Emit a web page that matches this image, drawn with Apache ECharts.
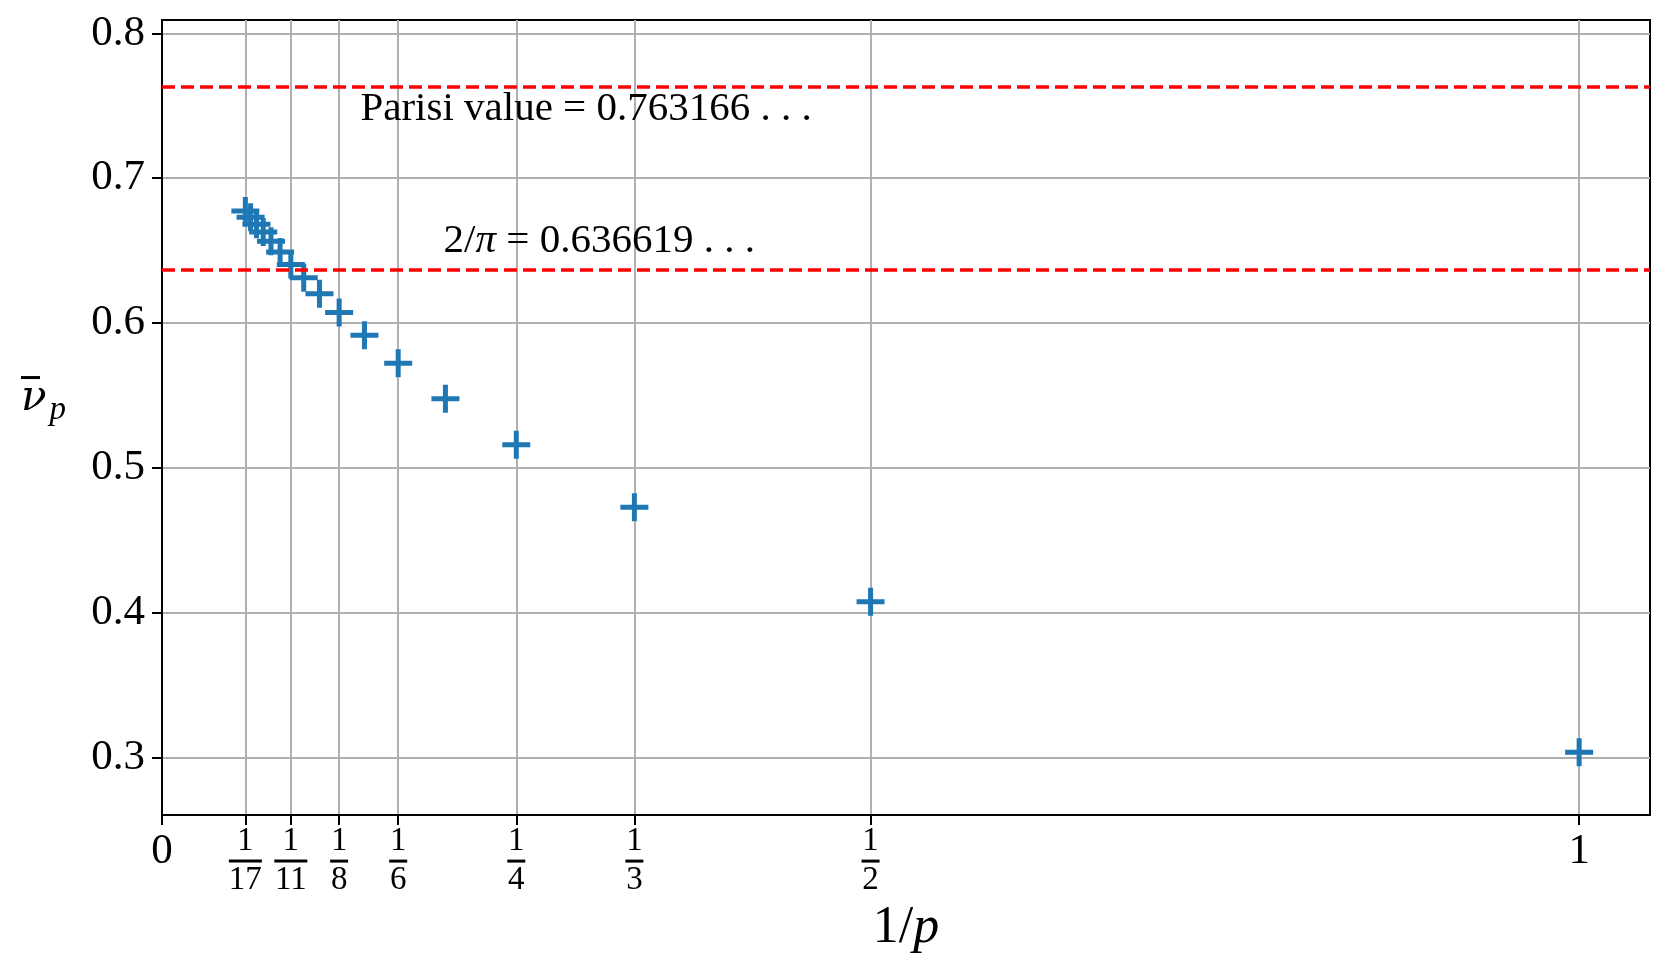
<!DOCTYPE html>
<html><head><meta charset="utf-8">
<script src="https://cdn.jsdelivr.net/npm/echarts@6/dist/echarts.min.js"></script>
<style>html,body{margin:0;padding:0;background:#fff}#c{width:1655px;height:959px}</style>
</head><body><div id="c"></div>
<script>
// ---- data ----
const pValues = [1, 2, 3, 4, 5, 6, 7, 8, 9, 10, 11, 12, 13, 14, 15, 16, 17];
const nuValues = [0.3037, 0.4076, 0.4729, 0.5160, 0.5477, 0.5722, 0.5915, 0.6072, 0.6202, 0.6313, 0.6404, 0.6490, 0.6565, 0.6628, 0.6682, 0.6731, 0.6773];
const xTickLabels = ['0', '1/17', '1/11', '1/8', '1/6', '1/4', '1/3', '1/2', '1'];
const yTickValues = [0.3, 0.4, 0.5, 0.6, 0.7, 0.8];
const refValues = [0.763166, 0.636619];
const refTexts = ['Parisi value = 0.763166', '2/π = 0.636619'];
const refTextAnchors = [[0.14, 0.7479], [0.1987, 0.6566]];

// ---- derived ----
const xTickValues = xTickLabels.map(s => { const a = s.split('/'); return a.length === 2 ? (+a[0]) / (+a[1]) : +a[0]; });
const points = pValues.map((p, i) => [1 / p, nuValues[i]]);
const FONT = 'Liberation Serif';

function xLabel(v) {
  let idx = -1;
  xTickValues.forEach((t, i) => { if (Math.abs(t - v) < 1e-9) idx = i; });
  if (idx < 0) return '';
  const s = xTickLabels[idx];
  const a = s.split('/');
  if (a.length === 1) return '{w|' + s + '}';
  const bar = a[1].length > 1 ? 'bar2' : 'bar1';
  return '{n|' + a[0] + '}\n{' + bar + '| }\n{n|' + a[1] + '}';
}

function refLabel(i) {
  const t = refTexts[i];
  if (t.indexOf('π') >= 0) {
    const parts = t.split('π');
    return '{t|' + parts[0] + '}{i|π}{t|' + parts[1] + ' . . .}';
  }
  return '{t|' + t + ' . . .}';
}

const chart = echarts.init(document.getElementById('c'), null, {renderer: 'canvas'});
chart.setOption({
  backgroundColor: '#fff',
  animation: false,
  grid: {left: 162, right: 5, top: 20, bottom: 142, show: true, borderColor: '#000', borderWidth: 2, backgroundColor: 'transparent'},
  xAxis: {
    type: 'value', min: 0, max: 1.05,
    name: '{n|1/}{i|p}', nameLocation: 'middle', nameGap: 82,
    nameTextStyle: {rich: {
      n: {fontFamily: FONT, fontSize: 52, color: '#000'},
      i: {fontFamily: FONT, fontSize: 52, fontStyle: 'italic', color: '#000'}
    }},
    axisLine: {show: true, lineStyle: {color: '#000', width: 2}},
    axisTick: {show: true, customValues: xTickValues, length: 10, lineStyle: {color: '#000', width: 2}},
    axisLabel: {
      customValues: xTickValues, margin: 11, formatter: xLabel,
      rich: {
        w: {fontFamily: FONT, fontSize: 43, lineHeight: 52, color: '#000'},
        n: {fontFamily: FONT, fontSize: 33, lineHeight: 31, color: '#000', align: 'center'},
        bar1: {width: 18, height: 3, backgroundColor: '#000', lineHeight: 8, fontSize: 1, align: 'center'},
        bar2: {width: 33, height: 3, backgroundColor: '#000', lineHeight: 8, fontSize: 1, align: 'center'}
      }
    },
    splitLine: {show: true, lineStyle: {color: '#b0b0b0', width: 2}}
  },
  yAxis: {
    type: 'value', min: 0.2603, max: 0.8092,
    name: '{m| }\n{nu|ν}{s|p}', nameLocation: 'middle', nameGap: 96, nameRotate: 0,
    nameTextStyle: {padding: [0, 0, 40, 0], rich: {
      m: {width: 19, height: 3, backgroundColor: '#000', lineHeight: 4, fontSize: 1, align: 'left', padding: [0, 0, 0, 0]},
      nu: {fontFamily: 'DejaVu Serif', fontSize: 42, lineHeight: 40, fontStyle: 'italic', color: '#000'},
      s: {fontFamily: FONT, fontSize: 33, lineHeight: 40, fontStyle: 'italic', color: '#000', padding: [22, 0, 0, 3]}
    }},
    axisLine: {show: true, lineStyle: {color: '#000', width: 2}},
    axisTick: {show: true, customValues: yTickValues, length: 10, lineStyle: {color: '#000', width: 2}},
    axisLabel: {customValues: yTickValues, margin: 17, fontFamily: FONT, fontSize: 43, color: '#000',
      formatter: v => v.toFixed(1)},
    splitLine: {show: true, lineStyle: {color: '#b0b0b0', width: 2}}
  },
  series: [
    {
      type: 'line', data: [], silent: true, z: 2,
      markLine: {
        silent: true, symbol: 'none', animation: false, precision: 6,
        label: {show: false},
        lineStyle: {color: '#ff0000', type: [13, 6], width: 3.5, opacity: 1},
        data: refValues.map(v => ({yAxis: v}))
      }
    },
    {
      type: 'scatter', z: 4,
      symbol: 'path://M11.5,0H16.5V11.5H28V16.5H16.5V28H11.5V16.5H0V11.5H11.5Z',
      symbolSize: 28,
      itemStyle: {color: '#1f77b4', opacity: 1},
      data: points
    },
    {
      type: 'scatter', z: 5, silent: true, symbolSize: 0,
      itemStyle: {opacity: 1},
      data: refTextAnchors.map((a, i) => ({value: a, label: {formatter: refLabel(i)}})),
      label: {
        show: true, position: [0, 0], align: 'left', verticalAlign: 'middle', color: '#000', opacity: 1,
        rich: {
          t: {fontFamily: FONT, fontSize: 41, color: '#000'},
          i: {fontFamily: FONT, fontSize: 41, fontStyle: 'italic', color: '#000'}
        }
      }
    }
  ]
});
</script></body></html>
